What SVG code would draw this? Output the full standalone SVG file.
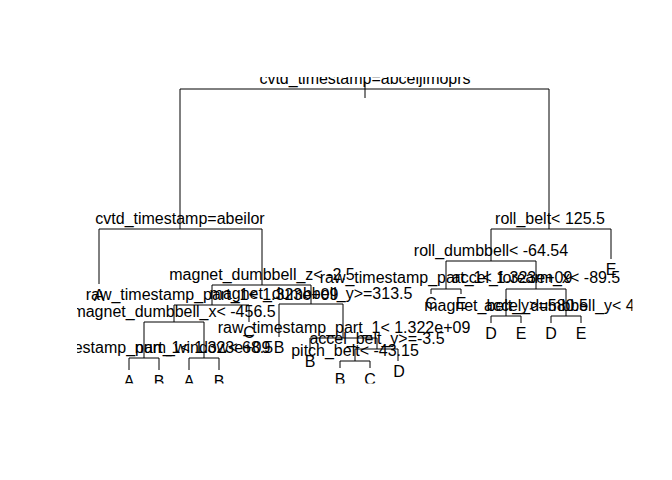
<svg xmlns="http://www.w3.org/2000/svg" width="672" height="480" viewBox="0 0 672 480">
<style>
text{font-family:"Liberation Sans",Arial,Helvetica,sans-serif;font-size:16px;fill:#000;text-anchor:middle}
.c path{fill:none;stroke:#000;stroke-width:1}
</style>
<defs><clipPath id="plot"><rect x="77" y="77" width="555.5" height="306.5"/></clipPath></defs>
<rect width="672" height="480" fill="#fff"/>
<g class="c" id="connectors" clip-path="url(#plot)">
<path d="M365 89H180V229M365 89H549V229"/>
<path d="M365 82V98"/>
<path d="M180 229H99V284M180 229H262V285"/>
<path d="M262 285H212V305M262 285H311V304"/>
<path d="M212 305H174V322M212 305H249V322"/>
<path d="M174 322H144V358M174 322H204V358"/>
<path d="M144 358H129V370M144 358H159V370M204 358H189V370M204 358H219V370"/>
<path d="M311 304H279V337M311 304H343V338"/>
<path d="M343 338H310V351M343 338H377V349"/>
<path d="M377 349H355V361M377 349H398V361"/>
<path d="M355 361H340V368M355 361H370V368"/>
<path d="M549 229H491V261M549 229H611V259"/>
<path d="M491 261H446V289M491 261H536V289"/>
<path d="M446 289H431V294M446 289H461V294"/>
<path d="M536 289H506V316M536 289H566V316"/>
<path d="M506 316H491V323M506 316H521V323M566 316H551V323M566 316H581V323"/>
</g>
<g id="nodes" clip-path="url(#plot)">
<g id="n1"><text x="365" y="84">cvtd_timestamp=abceijlmoprs</text></g>
<g id="n2"><text x="180" y="224">cvtd_timestamp=abeilor</text></g>
<g id="n3"><text x="550" y="224">roll_belt&lt; 125.5</text></g>
<g id="n4"><text x="99" y="301">A</text></g>
<g id="n5"><text x="262" y="280">magnet_dumbbell_z&lt; -2.5</text></g>
<g id="n10"><text x="212" y="300">raw_timestamp_part_1&lt; 1.323e+09</text></g>
<g id="n11"><text x="311" y="299">magnet_dumbbell_y&gt;=313.5</text></g>
<g id="n20"><text x="174" y="317">magnet_dumbbell_x&lt; -456.5</text></g>
<g id="n21"><text x="249" y="338">C</text></g>
<g id="n40"><text x="144" y="353">raw_timestamp_part_1&lt; 1.323e+09</text></g>
<g id="n41"><text x="204" y="353">num_window&lt; 68.5</text></g>
<g id="n80"><text x="129" y="386.5">A</text></g>
<g id="n81"><text x="159" y="386.5">B</text></g>
<g id="n82"><text x="189" y="386.5">A</text></g>
<g id="n83"><text x="219" y="386.5">B</text></g>
<g id="n22"><text x="279" y="353">B</text></g>
<g id="n23"><text x="344" y="333">raw_timestamp_part_1&lt; 1.322e+09</text></g>
<g id="n46"><text x="310" y="367">B</text></g>
<g id="n47"><text x="377" y="344">accel_belt_y&gt;=-3.5</text></g>
<g id="n94"><text x="355" y="356">pitch_belt&lt; -43.15</text></g>
<g id="n95"><text x="399" y="377">D</text></g>
<g id="n188"><text x="340" y="384.5">B</text></g>
<g id="n189"><text x="370" y="384.5">C</text></g>
<g id="n6"><text x="491" y="256">roll_dumbbell&lt; -64.54</text></g>
<g id="n7"><text x="611" y="275">E</text></g>
<g id="n12"><text x="446" y="283">raw_timestamp_part_1&lt; 1.323e+09</text></g>
<g id="n13"><text x="536" y="283">accel_forearm_x&lt; -89.5</text></g>
<g id="n24"><text x="431" y="309">C</text></g>
<g id="n25"><text x="461" y="309">E</text></g>
<g id="n26"><text x="506" y="311">magnet_belt_y&gt;=580.5</text></g>
<g id="n27"><text x="484" y="311" style="text-anchor:start">accel_dumbbell_y&lt; 48.5</text></g>
<g id="n52"><text x="491" y="339">D</text></g>
<g id="n53"><text x="521" y="339">E</text></g>
<g id="n54"><text x="551" y="339">D</text></g>
<g id="n55"><text x="581" y="339">E</text></g>
</g>
</svg>
